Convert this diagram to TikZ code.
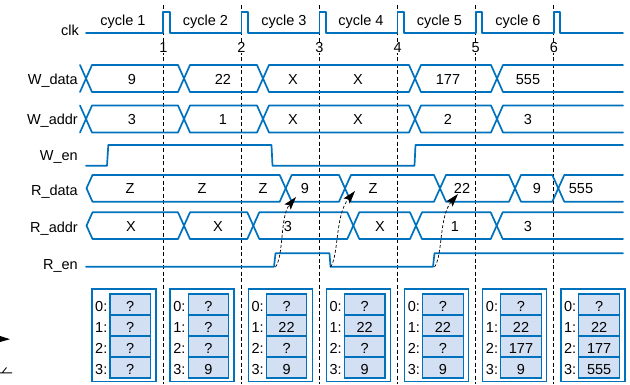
\documentclass[tikz,border=0pt]{standalone}
\usepackage{fontspec}
\setmainfont{Liberation Sans}
\usetikzlibrary{arrows.meta}
\definecolor{wblue}{RGB}{0,114,189}
\definecolor{cellfill}{RGB}{211,223,243}
\tikzset{
  sig/.style={draw=wblue, line width=1.7pt, line join=round, line cap=round},
  edgeline/.style={draw=black, line width=0.8pt, dash pattern=on 4pt off 2.5pt},
  lbl/.style={font=\fontsize{14.5}{17}\selectfont, inner sep=0pt},
  membox/.style={draw=wblue, line width=1.4pt},
  memcell/.style={draw=wblue, fill=cellfill, line width=1.1pt},
  darrow/.style={draw=black, line width=0.7pt, dash pattern=on 3pt off 2pt, -{Stealth[length=13pt,width=8pt,inset=2.5pt]}}
}
\begin{document}
\begin{tikzpicture}[x=1pt,y=-1pt]
\useasboundingbox (0,0) rectangle (630,384);
% clock edge dashed lines and numbers
\foreach \e [count=\k] in {163.3,241.4,319.5,397.6,475.7,553.8} {
  \draw[edgeline] (\e,5) -- (\e,384);
  \node[lbl,anchor=base,fill=white,inner sep=0.5pt] (n\k) at (\e,52.7) {\k};
}
% clock
\draw[sig] (86,33) foreach \e in {163.3,241.4,319.5,397.6,475.7,553.8} { -- (\e,33) -- (\e,12) -- (\e+6.5,12) -- (\e+6.5,33) } -- (623,33);
\foreach \x/\t [count=\k] in {123/cycle 1,205.5/cycle 2,284/cycle 3,361/cycle 4,439.5/cycle 5,518/cycle 6}
  \node[lbl,anchor=base] (c\k) at (\x,25.7) {\t};
% signal names
\node[lbl,anchor=base east] (lclk) at (79,35.5) {clk};
\node[lbl,anchor=base east] (lwd) at (78,84.5) {W\_data};
\node[lbl,anchor=base east] (lwa) at (78,124) {W\_addr};
\node[lbl,anchor=base east] (lwe) at (78,160) {W\_en};
\node[lbl,anchor=base east] (lrd) at (78,195) {R\_data};
\node[lbl,anchor=base east] (lra) at (78,232.5) {R\_addr};
\node[lbl,anchor=base east] (lre) at (78,269) {R\_en};
% W_data bus
\draw[sig] (80,65) -- (92,92) -- (178,92) -- (190,65) -- (257,65) -- (269,92) -- (409,92) -- (421,65) -- (491,65) -- (503,92) -- (623,92);
\draw[sig] (80,92) -- (92,65) -- (178,65) -- (190,92) -- (257,92) -- (269,65) -- (409,65) -- (421,92) -- (491,92) -- (503,65) -- (623,65);
% W_addr bus
\draw[sig] (80,105.5) -- (92,132.5) -- (178,132.5) -- (190,105.5) -- (257,105.5) -- (269,132.5) -- (409,132.5) -- (421,105.5) -- (491,105.5) -- (503,132.5) -- (623,132.5);
\draw[sig] (80,132.5) -- (92,105.5) -- (178,105.5) -- (190,132.5) -- (257,132.5) -- (269,105.5) -- (409,105.5) -- (421,132.5) -- (491,132.5) -- (503,105.5) -- (623,105.5);
% W_en
\draw[sig] (86,165.7) -- (107,165.7) -- (108.3,145) -- (271.5,145) -- (272.5,165.7) -- (414.5,165.7) -- (415.5,145) -- (623,145);
% R_data bus
\draw[sig] (86.5,188.3) -- (92.5,175) -- (279.7,175) -- (291.7,201.7) -- (339,201.7) -- (351,175) -- (434,175) -- (446,201.7) -- (509,201.7) -- (521,175) -- (552.3,175) -- (564.3,201.7) -- (623,201.7);
\draw[sig] (86.5,188.3) -- (92.5,201.7) -- (279.7,201.7) -- (291.7,175) -- (339,175) -- (351,201.7) -- (434,201.7) -- (446,175) -- (509,175) -- (521,201.7) -- (552.3,201.7) -- (564.3,175) -- (623,175);
% R_addr bus
\draw[sig] (86.5,225.7) -- (92.5,212.3) -- (178,212.3) -- (190,239) -- (247.3,239) -- (259.3,212.3) -- (347.3,212.3) -- (359.3,239) -- (410,239) -- (422,212.3) -- (490.7,212.3) -- (502.7,239) -- (623,239);
\draw[sig] (86.5,225.7) -- (92.5,239) -- (178,239) -- (190,212.3) -- (247.3,212.3) -- (259.3,239) -- (347.3,239) -- (359.3,212.3) -- (410,212.3) -- (422,239) -- (490.7,239) -- (502.7,212.3) -- (623,212.3);
% R_en
\draw[sig] (86,266.7) -- (274,266.7) -- (275.5,253.3) -- (329.5,253.3) -- (330.5,266.7) -- (433,266.7) -- (434.5,253.3) -- (623,253.3);
% bus values
\foreach \x/\t [count=\k] in {132/9,223/22,293/X,358/X,448/177,528/555}
  \node[lbl,anchor=base] (wd\k) at (\x,84) {\t};
\foreach \x/\t [count=\k] in {132/3,223/1,293/X,358/X,448/2,528/3}
  \node[lbl,anchor=base] (wa\k) at (\x,124.2) {\t};
\foreach \x/\t [count=\k] in {130/Z,202/Z,263/Z,305/9,373/Z,462/22,537/9,581/555}
  \node[lbl,anchor=base] (rd\k) at (\x,193.5) {\t};
\foreach \x/\t [count=\k] in {131/X,218/X,288/3,380/X,455/1,528/3}
  \node[lbl,anchor=base] (ra\k) at (\x,231) {\t};
% read arrows
\coordinate (s1) at (275.5,267); \coordinate (t1) at (296,197);
\coordinate (s2) at (330.5,267); \coordinate (t2) at (355,191);
\coordinate (s3) at (434.5,267); \coordinate (t3) at (458,194);
\draw[darrow] (s1) .. controls (284,255) and (280,216) .. (t1);
\draw[darrow] (s2) .. controls (339,255) and (335,215) .. (t2);
\draw[darrow] (s3) .. controls (443,255) and (439,216) .. (t3);
% memory snapshots
\foreach \i/\va/\vb/\vc/\vd in {0/?/?/?/?, 1/?/?/?/9, 2/?/22/?/9, 3/?/22/?/9, 4/?/22/?/9, 5/?/22/177/9, 6/?/22/177/555} {
  \pgfmathsetmacro\L{92+78.15*\i}
  \draw[membox] (\L,289) rectangle (\L+64,381.5);
  \foreach \r/\v in {0/\va,1/\vb,2/\vc,3/\vd} {
    \draw[memcell] (\L+18,{294+21*\r}) rectangle (\L+58.5,{294+21*(\r+1)});
    \node[lbl,anchor=base west] (m\i l\r) at (\L+3,{311+21*\r}) {\r:};
    \node[lbl,anchor=base] (m\i v\r) at (\L+38.25,{311+21*\r}) {\v};
  }
}
% cropped fragments at the lower left
\fill[black] (0,336) -- (10,339.2) -- (0,342) -- cycle;
\draw[black, line width=0.9pt] (0,372.8) -- (12,372.8) (2.5,372.5) -- (6.5,367.5);
\end{tikzpicture}
\end{document}
